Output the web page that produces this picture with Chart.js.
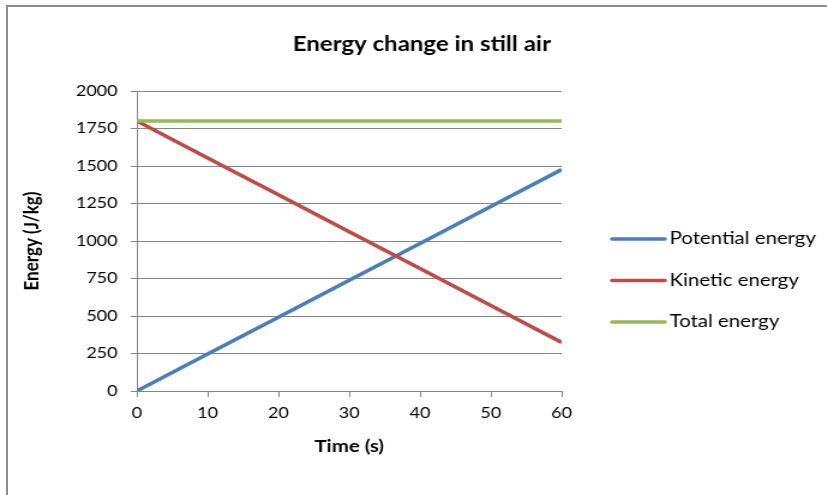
<!DOCTYPE html>
<html>
<head>
<meta charset="utf-8">
<title>Energy change in still air</title>
<script src="https://cdn.jsdelivr.net/npm/chart.js@4.4.0/dist/chart.umd.min.js"></script>
<style>
  html, body { margin: 0; padding: 0; background: #fff; overflow: hidden; }
  #wrap { position: relative; width: 827px; height: 495px; overflow: hidden; }
  /* outer chart frame, only its left and top edges fall inside the window */
  #frame { position: absolute; left: 6px; top: 5px; width: 1200px; height: 1200px;
           border-left: 2px solid #8c8c8c; border-top: 2px solid #8c8c8c; }
  /* the chart is laid out a little narrower and stretched sideways */
  #chart { position: absolute; left: 0; top: 0; transform: scaleX(1.2); transform-origin: 0 0; }
</style>
</head>
<body>
<div id="wrap">
  <div id="frame"></div>
  <canvas id="chart" width="703" height="495" style="width:703px;height:495px"></canvas>
</div>
<script>
var times = [0, 10, 20, 30, 40, 50, 60];
var potentialEnergy = [0, 246, 492, 738, 984, 1230, 1476];
var kineticEnergy = [1800, 1554, 1308, 1062, 816, 570, 324];
var totalEnergy = [1800, 1800, 1800, 1800, 1800, 1800, 1800];

var gridGrey = '#868686';
var fontFamily = 'Lato, "Open Sans", sans-serif';

function toPoints(values) {
    return values.map(function(v, i) {
        return { x: times[i], y: v };
    });
}

// Excel-style legend on the right: a layout box so the title stays
// centred over the whole chart, a short line sample per series
var sideLegend = {
    id: 'sideLegend',
    beforeInit: function(chart) {
        var box = {
            position: 'right',
            weight: 0,
            fullSize: false,
            options: {},
            isHorizontal: function() { return false; },
            update: function(maxWidth, maxHeight) {
                this.width = 235;
                this.height = maxHeight;
            },
            draw: function() {
                var ctx = chart.ctx;
                var x0 = 510, x1 = 554, top = 239, step = 41.5;
                ctx.save();
                ctx.font = '17px ' + fontFamily;
                ctx.textBaseline = 'middle';
                ctx.textAlign = 'left';
                chart.data.datasets.forEach(function(ds, i) {
                    var y = top + i * step;
                    ctx.strokeStyle = ds.borderColor;
                    ctx.lineWidth = ds.borderWidth;
                    ctx.lineCap = 'round';
                    ctx.beginPath();
                    ctx.moveTo(x0, y);
                    ctx.lineTo(x1, y);
                    ctx.stroke();
                    ctx.fillStyle = '#000';
                    ctx.fillText(ds.label, x1 + 4, y);
                });
                ctx.restore();
            }
        };
        Chart.layouts.addBox(chart, box);
    }
};

var ctx = document.getElementById('chart').getContext('2d');
var chart = new Chart(ctx, {
    type: 'line',
    data: {
        datasets: [{
            label: 'Potential energy',
            data: toPoints(potentialEnergy),
            borderColor: '#4a7ebb',
            borderWidth: 3.5,
            order: 3
        }, {
            label: 'Kinetic energy',
            data: toPoints(kineticEnergy),
            borderColor: '#be4b48',
            borderWidth: 3.5,
            order: 2
        }, {
            label: 'Total energy',
            data: toPoints(totalEnergy),
            borderColor: '#98b954',
            borderWidth: 3.5,
            order: 1
        }]
    },
    options: {
        responsive: false,
        animation: false,
        elements: {
            point: { radius: 0 },
            line: { tension: 0, borderCapStyle: 'butt' }
        },
        layout: {
            padding: 0
        },
        plugins: {
            legend: { display: false },
            tooltip: { enabled: false },
            title: {
                display: true,
                text: 'Energy change in still air',
                color: '#000',
                font: { family: fontFamily, size: 20, weight: 'bold' },
                padding: { top: 33, bottom: 34 }
            }
        },
        scales: {
            x: {
                type: 'linear',
                min: 0,
                max: 60,
                ticks: {
                    stepSize: 10,
                    padding: 7,
                    color: '#000',
                    font: { family: fontFamily, size: 15 }
                },
                grid: {
                    drawOnChartArea: false,
                    drawTicks: true,
                    tickLength: 6,
                    color: gridGrey
                },
                border: { color: gridGrey },
                title: {
                    display: true,
                    text: 'Time (s)',
                    color: '#000',
                    font: { family: fontFamily, size: 17, weight: 'bold' },
                    padding: { top: 0, bottom: 38.5 }
                },
                afterFit: function(scale) {
                    scale.height = 104;
                }
            },
            y: {
                min: 0,
                max: 2000,
                ticks: {
                    stepSize: 250,
                    padding: 11,
                    color: '#000',
                    font: { family: fontFamily, size: 15 },
                    callback: function(value) {
                        return String(value); // no thousands separator
                    }
                },
                grid: {
                    color: gridGrey,
                    tickLength: 5
                },
                border: { color: gridGrey },
                title: {
                    display: true,
                    text: 'Energy (J/kg)',
                    color: '#000',
                    font: { family: fontFamily, size: 17, weight: 'bold' },
                    padding: { top: 16.5, bottom: 0 }
                },
                afterFit: function(scale) {
                    scale.width = 114;
                }
            }
        }
    },
    plugins: [sideLegend]
});
</script>
</body>
</html>
